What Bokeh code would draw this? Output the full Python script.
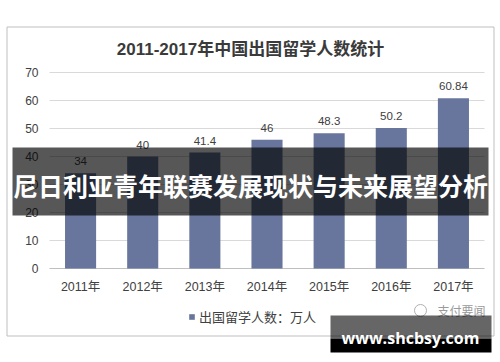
from bokeh.plotting import figure
from bokeh.models import (ColumnDataSource, Range1d, Legend, LegendItem)
from bokeh.core.properties import value
from bokeh.embed import file_html
from bokeh.resources import INLINE

# ---- data ----
years = ["2011年", "2012年", "2013年", "2014年", "2015年", "2016年", "2017年"]
students = [34, 40, 41.4, 46, 48.3, 50.2, 60.84]
value_labels = ["34", "40", "41.4", "46", "48.3", "50.2", "60.84"]
y_ticks = [0, 10, 20, 30, 40, 50, 60, 70]
y_max = 70
title_text = "2011-2017年中国出国留学人数统计"
legend_text = "出国留学人数：万人"
banner_text = "尼日利亚青年联赛发展现状与未来展望分析"
watermark_text = "www.shcbsy.com"
source_mark = "支付要闻"

# ---- style ----
BAR = "#68759c"
TXT = "#404040"
FONT = "Liberation Sans, Noto Sans CJK SC"
CJK = "Noto Sans CJK SC"

W, H = 500, 362
FL, FR, FT, FB = 49, 484, 72, 268  # plot area box (canvas px)

n = len(years)
idx = list(range(n))
px_cat = (FR - FL) / n
px_unit = (FB - FT) / y_max
x_range = Range1d(-0.5 - FL / px_cat, n - 0.5 + (W - FR) / px_cat)
y_range = Range1d(-(H - FB) / px_unit, y_max + FT / px_unit)

p = figure(width=W, height=H, x_range=x_range, y_range=y_range,
           output_backend="svg", toolbar_location=None, title=None,
           x_axis_location=None, y_axis_location=None, min_border=0)
p.outline_line_color = None
p.background_fill_color = "white"
p.border_fill_color = "white"
p.grid.visible = False
p.extra_x_ranges = {"px": Range1d(0, W)}
p.extra_y_ranges = {"px": Range1d(H, 0)}

PX = dict(x_range_name="px", y_range_name="px")

# chart border
p.quad(left=6.5, right=493.5, top=26.5, bottom=335.5, fill_alpha=0,
       line_color="#bfbfbf", line_width=1, **PX)

# grid lines from tick values
grid_src = ColumnDataSource(dict(y=y_ticks, x0=[-0.5] * len(y_ticks),
                                 x1=[n - 0.5] * len(y_ticks),
                                 c=["#bfbfbf" if t == 0 else "#d9d9d9" for t in y_ticks],
                                 lab=[str(t) for t in y_ticks]))
p.segment(x0="x0", x1="x1", y0="y", y1="y", source=grid_src, line_color="c",
          line_width=1)

# bars
src = ColumnDataSource(dict(x=idx, year=years, n=students, lab=value_labels,
                            y0=[0] * n))
r = p.vbar(x="x", top="n", width=0.5, source=src, color=BAR, line_color=None)
p.text(x="x", y="n", text="lab", source=src, text_align="center",
       text_baseline="middle", y_offset=-12, text_font_size="11.5px",
       text_color=TXT, text_font=value(FONT))

# axis tick labels
p.text(x="x0", y="y", text="lab", source=grid_src, text_align="right",
       text_baseline="middle", x_offset=-11, text_font_size="12px",
       text_color=TXT, text_font=value(FONT))
p.text(x="x", y="y0", text="year", source=src, text_align="center",
       text_baseline="middle", y_offset=18, text_font_size="12.5px",
       text_color=TXT, text_font=value(FONT))

# title
p.text(x=[250], y=[49], text=[title_text], text_align="center",
       text_baseline="middle", text_font=value(FONT), text_font_style="bold",
       text_font_size="17px", text_color="#3a3a3a", **PX)

# legend
legend = Legend(items=[LegendItem(label=legend_text, renderers=[r])],
                location=(188, H - 326), orientation="horizontal",
                glyph_width=7, glyph_height=7, label_standoff=4,
                label_text_font=CJK, label_text_font_size="13px",
                label_text_color=TXT, padding=0, margin=0,
                border_line_color=None, background_fill_alpha=0)
p.add_layout(legend)

# source mark
p.text(x=[485], y=[310], text=[source_mark], text_align="right",
       text_baseline="middle", text_font=value(CJK), text_font_size="12px",
       text_color="#9a9a9a", **PX)
p.circle(x=[420], y=[310], radius=6, radius_units="screen", fill_alpha=0,
         line_color="#b0b0b0", line_width=1, **PX)

# banner
p.quad(left=12, right=488, top=147, bottom=215, fill_color="black",
       fill_alpha=0.66, line_color=None, **PX)
p.text(x=[250], y=[184], text=[banner_text], text_align="center",
       text_baseline="middle", text_font=value(CJK), text_font_style="bold",
       text_font_size="25px", text_color="white", **PX)

# watermark
p.quad(left=330, right=491, top=315, bottom=338, fill_color="black",
       fill_alpha=0.6, line_color=None, **PX)
p.quad(left=330, right=491, top=338, bottom=352, fill_color="black",
       fill_alpha=1.0, line_color=None, **PX)
p.text(x=[410], y=[337], text=[watermark_text], text_align="center",
       text_baseline="middle", text_font=value("Open Sans"),
       text_font_style="bold", text_font_size="16px", text_color="white", **PX)

open("out.html", "w").write(file_html(p, INLINE))
